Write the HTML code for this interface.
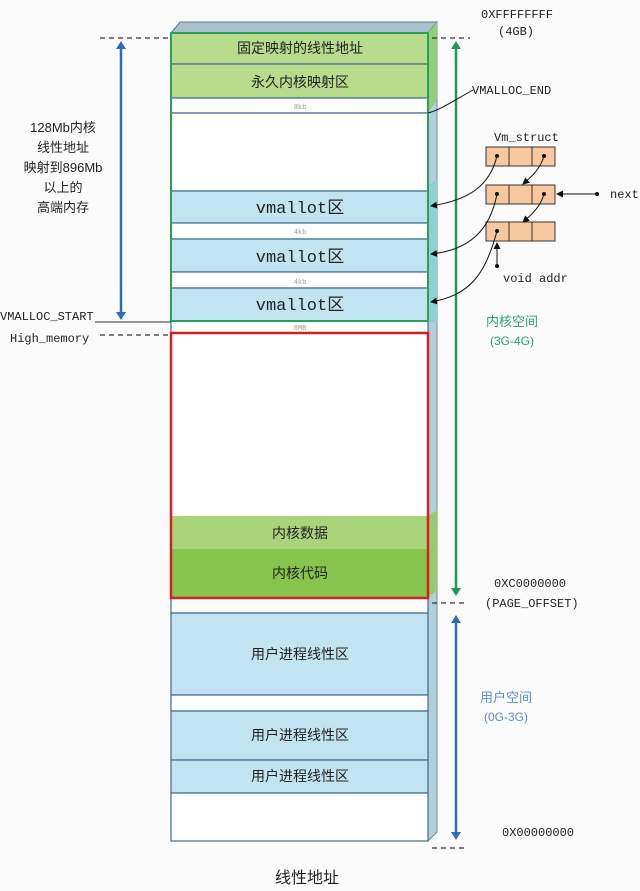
<!DOCTYPE html>
<html><head><meta charset="utf-8"><style>
html,body{margin:0;padding:0;background:#fbfbfb;}
svg{display:block;font-family:"Liberation Mono","Noto Sans CJK SC",monospace;}
.cn{font-family:"Liberation Sans","Noto Sans CJK SC",sans-serif;}
</style></head><body>
<svg width="640" height="891" viewBox="0 0 640 891" xmlns="http://www.w3.org/2000/svg">
<defs>
<marker id="ab" markerWidth="8" markerHeight="10" refX="4" refY="5" orient="auto-start-reverse" markerUnits="userSpaceOnUse"><path d="M0,0 L8,5 L0,10 z" fill="#2a6fb8"/></marker>
<marker id="ag" markerWidth="8" markerHeight="10" refX="4" refY="5" orient="auto-start-reverse" markerUnits="userSpaceOnUse"><path d="M0,0 L8,5 L0,10 z" fill="#1f9a55"/></marker>
<marker id="ak" markerWidth="7" markerHeight="7" refX="6" refY="3.5" orient="auto" markerUnits="userSpaceOnUse"><path d="M0,0 L7,3.5 L0,7 z" fill="#111"/></marker>
</defs>
<rect width="640" height="891" fill="#fbfbfb"/>
<!-- top face & side -->
<polygon points="171,33 180,22 437,22 428,33" fill="#a9c0cc" stroke="#5a7f90" stroke-width="1"/>
<polygon points="428,33 437,22 437,832 428,841" fill="#b3cfdc" stroke="#6d8fa0" stroke-width="1"/>
<polygon points="428,33 437,22 437,100 428,113" fill="#93cf7a"/>
<polygon points="428,185 437,180 437,322 428,322" fill="#8fd0d2"/>
<polygon points="428,516 437,510 437,590 428,598" fill="#9acb6e"/>
<!-- rows -->
<g stroke="#3d6a8c" stroke-width="1.2">
<rect x="171" y="33" width="257" height="31" fill="#b6dc8c"/>
<rect x="171" y="64" width="257" height="34" fill="#b6dc8c"/>
<rect x="171" y="98" width="257" height="15" fill="#fff"/>
<rect x="171" y="113" width="257" height="78" fill="#fff"/>
<rect x="171" y="191" width="257" height="32" fill="#c2e4f2"/>
<rect x="171" y="223" width="257" height="16" fill="#fff"/>
<rect x="171" y="239" width="257" height="33" fill="#c2e4f2"/>
<rect x="171" y="272" width="257" height="16" fill="#fff"/>
<rect x="171" y="288" width="257" height="33" fill="#c2e4f2"/>
<rect x="171" y="321" width="257" height="12" fill="#fff"/>
<rect x="171" y="598" width="257" height="15" fill="#fff"/>
<rect x="171" y="613" width="257" height="82" fill="#c2e4f2"/>
<rect x="171" y="695" width="257" height="16" fill="#fff"/>
<rect x="171" y="711" width="257" height="49" fill="#c2e4f2"/>
<rect x="171" y="760" width="257" height="33" fill="#c2e4f2"/>
<rect x="171" y="793" width="257" height="48" fill="#fff"/>
</g>
<rect x="171" y="33" width="257" height="288" fill="none" stroke="#2aa05a" stroke-width="2"/>
<rect x="171" y="333" width="257" height="265" fill="#fff"/>
<rect x="171" y="516" width="257" height="33" fill="#a9d47a"/>
<rect x="171" y="549" width="257" height="48" fill="#86c44e"/>
<rect x="171" y="333" width="257" height="265" fill="none" stroke="#d32020" stroke-width="2.5"/>
<!-- row labels -->
<g class="cn" font-size="14" fill="#222" text-anchor="middle">
<text x="300" y="53">固定映射的线性地址</text>
<text x="300" y="87">永久内核映射区</text>
<text x="300" y="538">内核数据</text>
<text x="300" y="578">内核代码</text>
<text x="300" y="659">用户进程线性区</text>
<text x="300" y="740">用户进程线性区</text>
<text x="300" y="781">用户进程线性区</text>
</g>
<g font-size="17" fill="#222" text-anchor="middle">
<text x="300" y="213">vmallot<tspan class="cn">区</tspan></text>
<text x="300" y="262">vmallot<tspan class="cn">区</tspan></text>
<text x="300" y="310">vmallot<tspan class="cn">区</tspan></text>
</g>
<g font-size="7" fill="#999" text-anchor="middle">
<text x="300" y="109">8kb</text><text x="300" y="234">4kb</text><text x="300" y="284">4kb</text><text x="300" y="330">8MB</text>
</g>
<!-- dashed guides -->
<g stroke="#333" stroke-width="1.2" stroke-dasharray="5,4">
<line x1="100" y1="38" x2="168" y2="38"/>
<line x1="432" y1="38" x2="470" y2="38"/>
<line x1="100" y1="335" x2="168" y2="335"/>
<line x1="432" y1="603" x2="466" y2="603"/>
<line x1="432" y1="848" x2="466" y2="848"/>
</g>
<line x1="95" y1="322" x2="171" y2="322" stroke="#333" stroke-width="1"/>
<!-- arrows -->
<line x1="121" y1="45" x2="121" y2="316" stroke="#2a6fb8" stroke-width="2.5" marker-start="url(#ab)" marker-end="url(#ab)"/>
<line x1="456" y1="45" x2="456" y2="592" stroke="#1f9a55" stroke-width="2.5" marker-start="url(#ag)" marker-end="url(#ag)"/>
<line x1="456" y1="619" x2="456" y2="836" stroke="#2a6fb8" stroke-width="2.5" marker-start="url(#ab)" marker-end="url(#ab)"/>
<!-- left labels -->
<g class="cn" font-size="13" fill="#222" text-anchor="middle">
<text x="63" y="132">128Mb内核</text>
<text x="63" y="152">线性地址</text>
<text x="63" y="172">映射到896Mb</text>
<text x="63" y="192">以上的</text>
<text x="63" y="212">高端内存</text>
</g>
<g font-size="12" fill="#222">
<text x="0" y="320">VMALLOC_START</text>
<text x="10" y="342">High_memory</text>
<text x="481" y="18">0XFFFFFFFF</text>
<text x="498" y="35">(4GB)</text>
<text x="472" y="94">VMALLOC_END</text>
<text x="494" y="141">Vm_struct</text>
<text x="610" y="198">next</text>
<text x="503" y="282">void addr</text>
<text x="494" y="587">0XC0000000</text>
<text x="485" y="607">(PAGE_OFFSET)</text>
<text x="502" y="836">0X00000000</text>
</g>
<g class="cn" font-size="13" text-anchor="middle">
<text x="512" y="326" fill="#2aa070">内核空间</text>
<text x="512" y="345" fill="#2aa070" font-size="12">(3G-4G)</text>
<text x="506" y="702" fill="#5a8fc0">用户空间</text>
<text x="506" y="721" fill="#5a8fc0" font-size="12">(0G-3G)</text>
<text x="307" y="883" fill="#222" font-size="16">线性地址</text>
</g>
<!-- vm_struct boxes -->
<g fill="#f8c9a0" stroke="#333" stroke-width="1">
<rect x="486" y="147" width="23" height="19"/><rect x="509" y="147" width="23" height="19"/><rect x="532" y="147" width="23" height="19"/>
<rect x="486" y="185" width="23" height="19"/><rect x="509" y="185" width="23" height="19"/><rect x="532" y="185" width="23" height="19"/>
<rect x="486" y="222" width="23" height="19"/><rect x="509" y="222" width="23" height="19"/><rect x="532" y="222" width="23" height="19"/>
</g>
<g fill="#111">
<circle cx="497" cy="156" r="2"/><circle cx="544" cy="156" r="2"/>
<circle cx="497" cy="194" r="2"/><circle cx="544" cy="194" r="2"/>
<circle cx="497" cy="231" r="2"/><circle cx="597" cy="194" r="2"/><circle cx="497" cy="266" r="2"/>
</g>
<g fill="none" stroke="#111" stroke-width="1">
<path d="M544,156 C540,170 530,178 523,184" marker-end="url(#ak)"/>
<path d="M544,194 C540,208 530,216 523,222" marker-end="url(#ak)"/>
<path d="M597,194 L557,194" marker-end="url(#ak)"/>
<path d="M497,266 L497,243" marker-end="url(#ak)"/>
<path d="M497,156 C490,185 470,200 431,206" marker-end="url(#ak)"/>
<path d="M497,194 C490,230 470,250 431,254" marker-end="url(#ak)"/>
<path d="M497,231 C485,275 470,295 431,302" marker-end="url(#ak)"/>
<path d="M473,90 C455,100 440,110 428,113"/>
</g>
</svg>
</body></html>
